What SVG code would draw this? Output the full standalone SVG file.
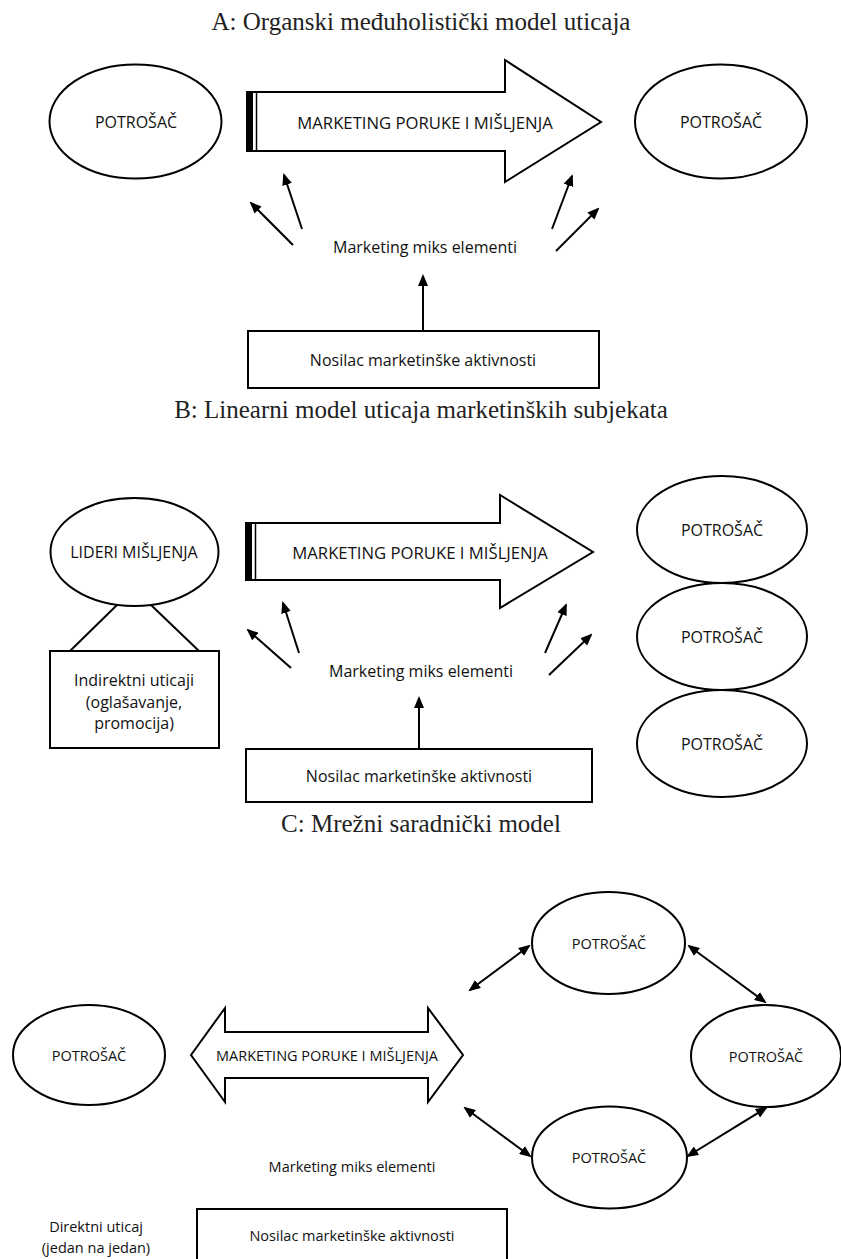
<svg xmlns="http://www.w3.org/2000/svg" width="841" height="1259" viewBox="0 0 841 1259">
<style>
.title{font-family:"Liberation Serif","DejaVu Serif",serif;font-size:25px;fill:#222;text-anchor:middle}
.t{font-family:"Open Sans","Noto Sans",sans-serif;font-size:16px;fill:#111;text-anchor:middle;dominant-baseline:central}
.big{font-size:16.7px}
.s{font-size:14.5px}
.shape{fill:#fff;stroke:#000;stroke-width:2}
.con{stroke:#000;stroke-width:2;fill:none}
</style>
<defs>
<marker id="ah" viewBox="0 0 12 10" refX="10" refY="5" markerWidth="12" markerHeight="10" markerUnits="userSpaceOnUse" orient="auto-start-reverse">
<path d="M0,0 L12,5 L0,10 Z" fill="#000"/>
</marker>
</defs>
<rect width="841" height="1259" fill="#fff"/>

<text class="title" x="421" y="30">A: Organski međuholistički model uticaja</text>
<text class="title" x="421" y="418">B: Linearni model uticaja marketinških subjekata</text>
<text class="title" x="421" y="832">C: Mrežni saradnički model</text>

<!-- Section A -->
<g id="a-potrosac-left"><ellipse class="shape" cx="135.5" cy="121.5" rx="86" ry="57"/><text class="t" x="136" y="122">POTROŠAČ</text></g>
<g id="a-arrow"><path class="shape" d="M247,92 H505 V60 L601,122 L505,182 V151 H247 Z"/><rect x="247" y="92" width="6" height="59" fill="#000"/><line x1="256.5" y1="92" x2="256.5" y2="151" stroke="#000" stroke-width="1.5"/><text class="t big" x="425" y="122">MARKETING PORUKE I MIŠLJENJA</text></g>
<g id="a-potrosac-right"><ellipse class="shape" cx="721" cy="121.5" rx="86" ry="57"/><text class="t" x="721" y="122">POTROŠAČ</text></g>
<g id="a-miks"><text class="t" x="425" y="247">Marketing miks elementi</text></g>
<g id="a-nosilac"><rect class="shape" x="248" y="331" width="351" height="57"/><text class="t" x="423" y="360">Nosilac marketinške aktivnosti</text></g>

<!-- Section B -->
<g id="b-lideri"><ellipse class="shape" cx="134.5" cy="552" rx="84" ry="54"/><text class="t" x="134" y="552">LIDERI MIŠLJENJA</text></g>
<g id="b-indirektni"><rect class="shape" x="50" y="651" width="169" height="97"/><text class="t" x="134" y="680">Indirektni uticaji</text><text class="t" x="134" y="702">(oglašavanje,</text><text class="t" x="134" y="723">promocija)</text></g>
<g id="b-arrow"><path class="shape" d="M246,523 H500 V495 L593,552 L500,608 V580 H246 Z"/><rect x="246" y="523" width="6" height="57" fill="#000"/><line x1="255.5" y1="523" x2="255.5" y2="580" stroke="#000" stroke-width="1.5"/><text class="t big" x="420" y="552">MARKETING PORUKE I MIŠLJENJA</text></g>
<g id="b-potrosac-1"><ellipse class="shape" cx="722" cy="529.5" rx="85" ry="53.5"/><text class="t" x="722" y="530">POTROŠAČ</text></g>
<g id="b-potrosac-2"><ellipse class="shape" cx="722" cy="636.5" rx="85" ry="53.5"/><text class="t" x="722" y="637">POTROŠAČ</text></g>
<g id="b-potrosac-3"><ellipse class="shape" cx="722" cy="743.5" rx="85" ry="53.5"/><text class="t" x="722" y="744">POTROŠAČ</text></g>
<g id="b-miks"><text class="t" x="421" y="671">Marketing miks elementi</text></g>
<g id="b-nosilac"><rect class="shape" x="246" y="749" width="346" height="53"/><text class="t" x="419" y="776">Nosilac marketinške aktivnosti</text></g>

<!-- Section C -->
<g id="c-potrosac-left"><ellipse class="shape" cx="89" cy="1055" rx="76" ry="50"/><text class="t s" x="89" y="1055">POTROŠAČ</text></g>
<g id="c-arrow"><path class="shape" d="M191,1055 L225,1008 V1032 H428 V1008 L463,1055 L428,1102 V1078 H225 V1102 Z"/><text class="t s" x="327" y="1055">MARKETING PORUKE I MIŠLJENJA</text></g>
<g id="c-potrosac-top"><ellipse class="shape" cx="608.5" cy="943" rx="76.5" ry="51"/><text class="t s" x="609" y="943">POTROŠAČ</text></g>
<g id="c-potrosac-right"><ellipse class="shape" cx="766" cy="1056" rx="75" ry="51"/><text class="t s" x="766" y="1056">POTROŠAČ</text></g>
<g id="c-potrosac-bottom"><ellipse class="shape" cx="609.5" cy="1157.5" rx="77.5" ry="51"/><text class="t s" x="609" y="1157">POTROŠAČ</text></g>
<g id="c-miks"><text class="t s" x="352" y="1166">Marketing miks elementi</text></g>
<g id="c-direktni"><text class="t s" x="96" y="1226">Direktni uticaj</text><text class="t s" x="96" y="1247">(jedan na jedan)</text></g>
<g id="c-nosilac"><rect class="shape" x="197" y="1209" width="310" height="60"/><text class="t s" x="352" y="1235">Nosilac marketinške aktivnosti</text></g>

<g id="connectors">
<line class="con" x1="293" y1="245" x2="251" y2="203" marker-end="url(#ah)"/>
<line class="con" x1="302" y1="229" x2="284" y2="175" marker-end="url(#ah)"/>
<line class="con" x1="552" y1="229" x2="572" y2="176" marker-end="url(#ah)"/>
<line class="con" x1="556" y1="251" x2="598" y2="209" marker-end="url(#ah)"/>
<line class="con" x1="423" y1="331" x2="423" y2="276" marker-end="url(#ah)"/>

<line class="con" x1="291" y1="668" x2="248" y2="630" marker-end="url(#ah)"/>
<line class="con" x1="299" y1="653" x2="283" y2="603" marker-end="url(#ah)"/>
<line class="con" x1="545" y1="653" x2="566" y2="605" marker-end="url(#ah)"/>
<line class="con" x1="549" y1="675" x2="591" y2="635" marker-end="url(#ah)"/>
<line class="con" x1="419" y1="749" x2="419" y2="698" marker-end="url(#ah)"/>
<line class="con" x1="117" y1="605" x2="70" y2="651"/>
<line class="con" x1="151" y1="605" x2="199" y2="651"/>

<line class="con" x1="470" y1="990" x2="529" y2="946" marker-start="url(#ah)" marker-end="url(#ah)"/>
<line class="con" x1="689" y1="946" x2="765" y2="1002" marker-start="url(#ah)" marker-end="url(#ah)"/>
<line class="con" x1="465" y1="1108" x2="530" y2="1156" marker-start="url(#ah)" marker-end="url(#ah)"/>
<line class="con" x1="688" y1="1156" x2="766" y2="1108" marker-start="url(#ah)" marker-end="url(#ah)"/>
</g>
</svg>
